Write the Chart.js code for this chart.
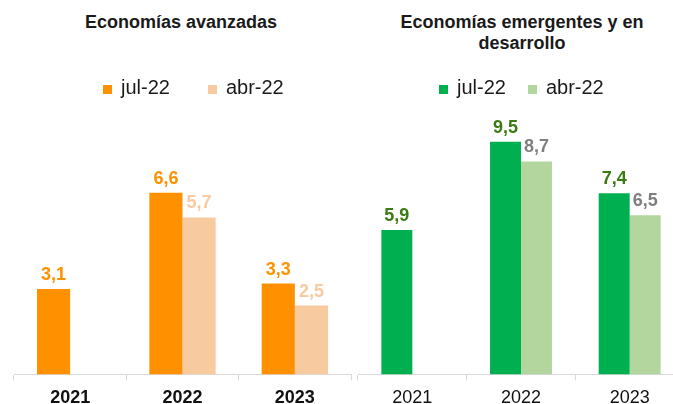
<!DOCTYPE html>
<html>
<head>
<meta charset="utf-8">
<script src="https://cdn.jsdelivr.net/npm/chart.js@4"></script>
<style>
	html, body { margin:0; padding:0; background:#fff; }
	body { width:673px; height:404px; position:relative; overflow:hidden; font-family:"Liberation Sans", Arial, sans-serif; }
	canvas { position:absolute; top:0; }
	.chartTitle { position:absolute; top:12px; font-weight:bold; font-size:18px; line-height:21px; color:#1a1a1a; text-align:center; }
	.graphLegendBox { position:absolute; top:77px; font-size:20px; line-height:20px; color:#1a1a1a; white-space:nowrap; }
	.graphLegendBox span.item { display:inline-block; }
	.graphLegendBox span.box { display:inline-block; width:9px; height:9px; margin-right:9px; }
</style>
</head>
<body>
<div class="chartTitle" style="left:0;width:362px;">Economías avanzadas</div>
<div class="chartTitle" style="left:380px;width:284px;">Economías emergentes y en<br>desarrollo</div>
<canvas id="chartAdv" width="355" height="416" style="left:0;"></canvas>
<canvas id="chartEme" width="340" height="416" style="left:355px;"></canvas>
<script>
// data
var years = ['2021', '2022', '2023'];
var seriesNames = ['jul-22', 'abr-22'];
var advJul = [3.1, 6.6, 3.3];
var advAbr = [null, 5.7, 2.5];
var emeJul = [5.9, 9.5, 7.4];
var emeAbr = [null, 8.7, 6.5];

// value labels over bars (decimal comma)
var valueLabelPlugin = {
	id: 'valueLabels',
	afterDatasetsDraw: function(chart) {
		var ctx = chart.ctx;
		chart.data.datasets.forEach(function(ds, i) {
			var meta = chart.getDatasetMeta(i);
			meta.data.forEach(function(bar, j) {
				var v = ds.data[j];
				if (v === null || v === undefined) return;
				ctx.save();
				ctx.font = 'bold 18px "Liberation Sans", Arial, sans-serif';
				ctx.fillStyle = ds.labelColor;
				ctx.textAlign = 'center';
				ctx.textBaseline = 'alphabetic';
				ctx.fillText(v.toFixed(1).replace('.', ','), bar.x, bar.y - 9);
				ctx.restore();
			});
		});
	}
};

var barChartFn = function(target, options) {
	var canvas = document.getElementById(target);
	var colors = options.colors;
	var labelColors = options.labelColors;
	for (var i = 0; i < options.datasets.length; i++) {
		options.datasets[i]['backgroundColor'] = colors[i];
		options.datasets[i]['labelColor'] = labelColors[i];
		options.datasets[i]['borderWidth'] = 0;
	}

	var chartSet = new Chart(canvas, {
		type: 'bar',
		data: {
			labels: options.labels,
			datasets: options.datasets
		},
		options: {
			responsive: false,
			animation: false,
			devicePixelRatio: 1,
			categoryPercentage: options.catPct,
			barPercentage: 1,
			layout: { padding: options.padding },
			scales: {
				x: {
					border: { display: true, color: '#d9d9d9', width: 1 },
					grid: { drawOnChartArea: false, drawTicks: true, tickLength: 6, color: '#d9d9d9' },
					ticks: {
						padding: 7,
						color: '#111',
						font: { family: '"Liberation Sans", Arial, sans-serif', size: 18, weight: options.tickWeight }
					}
				},
				y: { display: false, min: 0, max: options.yMax }
			},
			plugins: {
				legend: { display: false },
				tooltip: { enabled: false }
			}
		},
		plugins: [valueLabelPlugin]
	});

	// html legend
	var labelItems = chartSet.options.plugins.legend.labels.generateLabels(chartSet);
	var html = '<div class="graphLegendBox" style="left:' + options.legendLeft + 'px">';
	for (var k = 0; k < labelItems.length; k++) {
		html += '<span class="item" style="margin-right:' + (k < labelItems.length - 1 ? options.legendGap : 0) + 'px">'
			+ '<span class="box" style="background-color:' + labelItems[k].fillStyle + '"></span>' + labelItems[k].text + '</span>';
	}
	html += '</div>';
	document.body.insertAdjacentHTML('beforeend', html);

	return { chartFn: chartSet };
};

barChartFn('chartAdv', {
	labels: years,
	datasets: [
		{ label: seriesNames[0], data: advJul },
		{ label: seriesNames[1], data: advAbr }
	],
	colors: ['#ff9100', '#f8caa0'],
	labelColors: ['#ff9100', '#f8caa0'],
	catPct: 0.59,
	padding: { left: 14, right: 4, top: 99, bottom: 0 },
	yMax: 10,
	tickWeight: 'bold',
	legendLeft: 103,
	legendGap: 38
});

barChartFn('chartEme', {
	labels: years,
	datasets: [
		{ label: seriesNames[0], data: emeJul },
		{ label: seriesNames[1], data: emeAbr }
	],
	colors: ['#00b050', '#b3d69e'],
	labelColors: ['#3c7a14', '#7f7f7f'],
	catPct: 0.57,
	padding: { left: 3, right: 11, top: 99, bottom: 0 },
	yMax: 11.25,
	tickWeight: 'normal',
	legendLeft: 439,
	legendGap: 22
});
</script>
</body>
</html>
